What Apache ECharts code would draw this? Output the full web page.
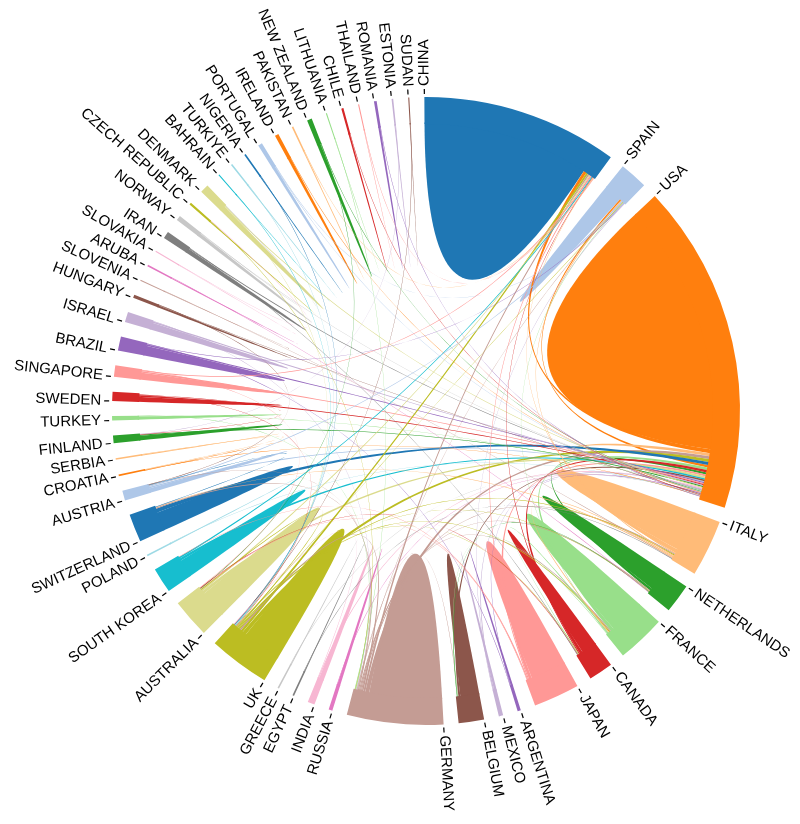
<!DOCTYPE html>
<html>
<head>
<meta charset="utf-8">
<style>
  html, body { margin: 0; padding: 0; background: #fff; }
  #chart { width: 800px; height: 824px; }
</style>
<script src="https://cdn.jsdelivr.net/npm/echarts@6/dist/echarts.min.js"></script>
</head>
<body>
<div id="chart"></div>
<script>
// countries, clockwise from the top
var countries = ['CHINA','SPAIN','USA','ITALY','NETHERLANDS','FRANCE','CANADA','JAPAN','ARGENTINA','MEXICO',
  'BELGIUM','GERMANY','RUSSIA','INDIA','EGYPT','GREECE','UK','AUSTRALIA','SOUTH KOREA','POLAND',
  'SWITZERLAND','AUSTRIA','CROATIA','SERBIA','FINLAND','TURKEY','SWEDEN','SINGAPORE','BRAZIL','ISRAEL',
  'HUNGARY','SLOVENIA','ARUBA','SLOVAKIA','IRAN','NORWAY','CZECH REPUBLIC','DENMARK','BAHRAIN','TURKIYE',
  'NIGERIA','PORTUGAL','IRELAND','PAKISTAN','NEW ZEALAND','LITHUANIA','CHILE','THAILAND','ROMANIA','ESTONIA','SUDAN'];

// size of each country's arc
var totals = [363,52,611,105,54,90,45,85,6,8,
  47,178,7,13,3,3,113,72,47,3,
  52,18,3,3,14,8,17,21,26,19,
  6,2,3,2,13,9,4,16,2,3,
  3,8,7,3,9,2,4,2,5,3,2];

// domestic (self) part of each arc
var selfValues = [336,37,508,81,42,71,31,72,4,5,
  38,146,6,10,2,2,79,55,36,2,
  38,9,1,2,9,6,10,14,20,14,
  4,1,2,1,9,7,2,11,1,2,
  2,6,6,2,7,1,3,1,4,2,1];

// [country a, country b, width at a, width at b]
var links = [
  ['CHINA','USA',6,8], ['SPAIN','USA',3,5], ['ITALY','USA',8,6], ['NETHERLANDS','USA',5,4],
  ['FRANCE','USA',7,5], ['CANADA','USA',6,5], ['JAPAN','USA',6,4], ['GERMANY','USA',8,6],
  ['UK','USA',8,6], ['AUSTRALIA','USA',6,4], ['SOUTH KOREA','USA',5,3], ['SWITZERLAND','USA',8,6],
  ['AUSTRIA','USA',3,2], ['BELGIUM','USA',4,3], ['BRAZIL','USA',3,2], ['SINGAPORE','USA',3,2],
  ['SWEDEN','USA',3,2], ['ISRAEL','USA',3,2], ['FINLAND','USA',2,2], ['DENMARK','USA',2,2],
  ['IRAN','USA',2,1], ['INDIA','USA',2,2], ['MEXICO','USA',2,2], ['TURKEY','USA',1,1],
  ['NORWAY','USA',1,1], ['NEW ZEALAND','USA',1,1], ['PORTUGAL','USA',1,1], ['IRELAND','USA',1,1],
  ['RUSSIA','USA',1,1], ['ARGENTINA','USA',1,1], ['HUNGARY','USA',1,1], ['GREECE','USA',1,1],
  ['CHILE','USA',1,1], ['POLAND','USA',1,1], ['CROATIA','USA',1,1], ['ROMANIA','USA',1,1],
  ['UK','CHINA',5,4], ['GERMANY','CHINA',4,3], ['AUSTRALIA','CHINA',3,2], ['JAPAN','CHINA',2,2],
  ['SINGAPORE','CHINA',2,2], ['SOUTH KOREA','CHINA',3,2], ['CANADA','CHINA',2,1], ['ITALY','CHINA',2,1],
  ['PAKISTAN','CHINA',1,1], ['THAILAND','CHINA',1,1],
  ['GERMANY','UK',3,3], ['GERMANY','ITALY',2,2], ['GERMANY','FRANCE',2,2], ['GERMANY','NETHERLANDS',2,2],
  ['GERMANY','SWITZERLAND',2,2], ['GERMANY','AUSTRIA',1,1], ['GERMANY','SPAIN',1,1], ['GERMANY','BELGIUM',1,1],
  ['ISRAEL','GERMANY',1,1], ['TURKEY','GERMANY',1,1], ['CZECH REPUBLIC','GERMANY',1,1], ['LITHUANIA','GERMANY',1,1],
  ['UK','ITALY',2,2], ['UK','FRANCE',2,2], ['UK','AUSTRALIA',2,2], ['UK','SPAIN',1,1],
  ['UK','NETHERLANDS',1,1], ['UK','CANADA',1,1], ['SWEDEN','UK',1,1], ['DENMARK','UK',1,1],
  ['BAHRAIN','UK',1,1], ['TURKIYE','UK',1,1], ['NIGERIA','UK',1,1], ['SUDAN','UK',1,1], ['INDIA','UK',1,1],
  ['ITALY','SPAIN',2,2], ['ITALY','FRANCE',2,2], ['ITALY','SWITZERLAND',2,1], ['SLOVENIA','ITALY',1,1],
  ['EGYPT','ITALY',1,1], ['FRANCE','SPAIN',1,1], ['FRANCE','BELGIUM',1,1], ['FRANCE','CANADA',2,1],
  ['SPAIN','AUSTRIA',2,2], ['PORTUGAL','SPAIN',1,1], ['BRAZIL','SPAIN',1,1], ['MEXICO','SPAIN',1,1],
  ['NETHERLANDS','BELGIUM',1,1], ['ARUBA','NETHERLANDS',1,1], ['JAPAN','SOUTH KOREA',2,1], ['JAPAN','AUSTRALIA',1,1],
  ['NEW ZEALAND','AUSTRALIA',1,1], ['CANADA','AUSTRALIA',1,1], ['SINGAPORE','AUSTRALIA',1,1], ['IRAN','CANADA',1,1],
  ['SWITZERLAND','AUSTRIA',1,1], ['HUNGARY','AUSTRIA',1,1], ['SERBIA','CROATIA',1,1], ['SWEDEN','FINLAND',1,1],
  ['ESTONIA','FINLAND',1,1], ['NORWAY','DENMARK',1,1], ['SLOVAKIA','CZECH REPUBLIC',1,1], ['BRAZIL','ARGENTINA',1,1]
];

var palette = ['#1f77b4','#aec7e8','#ff7f0e','#ffbb78','#2ca02c','#98df8a','#d62728','#ff9896','#9467bd','#c5b0d5',
  '#8c564b','#c49c94','#e377c2','#f7b6d2','#7f7f7f','#c7c7c7','#bcbd22','#dbdb8d','#17becf','#9edae5'];

var CX = 426, CY = 411, R_IN = 287, R_OUT = 314;
var R_RIB = R_IN + 1.5;   // ribbons tuck slightly under the ring, no seam
var PAD = 2.75 * Math.PI / 180;
var START = -0.3 * Math.PI / 180;

var n = countries.length;
var idx = {};
countries.forEach(function(c, i){ idx[c] = i; });
function colorOf(i){ return palette[i % palette.length]; }

// group layout
var sumTotal = totals.reduce(function(s, v){ return s + v; }, 0);
var k = (2 * Math.PI - n * PAD) / sumTotal;
var groupStart = [], groupEnd = [];
var ang = START;
for (var i = 0; i < n; i++) {
  groupStart[i] = ang;
  ang += totals[i] * k;
  groupEnd[i] = ang;
  ang += PAD;
}

// subgroups: self first, then links by descending width
var ends = countries.map(function(){ return []; });
links.forEach(function(l, li){
  ends[idx[l[0]]].push({li: li, side: 0, w: l[2]});
  ends[idx[l[1]]].push({li: li, side: 1, w: l[3]});
});
var selfArc = [];
var linkArc = links.map(function(){ return [null, null]; });
for (i = 0; i < n; i++) {
  var a0 = groupStart[i];
  selfArc[i] = [a0, a0 + selfValues[i] * k];
  a0 = selfArc[i][1];
  ends[i].sort(function(p, q){ return q.w - p.w; });
  ends[i].forEach(function(e){
    linkArc[e.li][e.side] = [a0, a0 + e.w * k];
    a0 += e.w * k;
  });
}

function pt(phi, r){ return [CX + r * Math.sin(phi), CY - r * Math.cos(phi)]; }
function arcPts(p0, p1, out){
  var m = Math.max(2, Math.ceil(Math.abs(p1 - p0) / 0.01));
  for (var s = 0; s <= m; s++) out.push(pt(p0 + (p1 - p0) * s / m, R_RIB));
}
function curvePts(P0, P2, out){
  for (var s = 1; s < 48; s++) {
    var t = s / 48, u = 1 - t;
    out.push([u*u*P0[0] + 2*u*t*CX + t*t*P2[0], u*u*P0[1] + 2*u*t*CY + t*t*P2[1]]);
  }
}
function ribbon(sa, ta){
  var pts = [];
  arcPts(sa[0], sa[1], pts);
  if (ta) {
    curvePts(pt(sa[1], R_RIB), pt(ta[0], R_RIB), pts);
    arcPts(ta[0], ta[1], pts);
    curvePts(pt(ta[1], R_RIB), pt(sa[0], R_RIB), pts);
  } else {
    curvePts(pt(sa[1], R_RIB), pt(sa[0], R_RIB), pts);
  }
  return pts;
}

var ribbons = [];
for (i = 0; i < n; i++) ribbons.push({points: ribbon(selfArc[i]), color: colorOf(i)});
links.forEach(function(l, li){
  var c = l[2] >= l[3] ? colorOf(idx[l[0]]) : colorOf(idx[l[1]]);
  ribbons.push({points: ribbon(linkArc[li][0], linkArc[li][1]), color: c});
});

var chart = echarts.init(document.getElementById('chart'));
chart.setOption({
  animation: false,
  series: [
    {
      type: 'custom', coordinateSystem: 'none', silent: true,
      data: ribbons.map(function(r, j){ return [j]; }),
      renderItem: function(params){
        var r = ribbons[params.dataIndex];
        return {type: 'polygon', shape: {points: r.points}, style: {fill: r.color}};
      }
    },
    {
      type: 'custom', coordinateSystem: 'none', silent: true,
      data: countries.map(function(c, j){ return [j]; }),
      renderItem: function(params){
        var j = params.dataIndex;
        var phi = groupStart[j];
        var right = phi < Math.PI;
        var p1 = pt(phi, R_OUT + 3), p2 = pt(phi, R_OUT + 8), pl = pt(phi, R_OUT + 11);
        var rot = right ? Math.PI / 2 - phi : -Math.PI / 2 - phi;
        var align = right ? 'left' : 'right';
        return {
          type: 'group',
          children: [
            {
              type: 'sector',
              shape: {cx: CX, cy: CY, r0: R_IN, r: R_OUT,
                startAngle: groupStart[j] - Math.PI / 2, endAngle: groupEnd[j] - Math.PI / 2, clockwise: true},
              style: {fill: colorOf(j)}
            },
            {
              type: 'line',
              shape: {x1: p1[0], y1: p1[1], x2: p2[0], y2: p2[1]},
              style: {stroke: '#000', lineWidth: 1.2}
            },
            {
              type: 'text', x: pl[0], y: pl[1], rotation: rot,
              style: {text: countries[j], fill: '#000', font: '15px "Liberation Sans", Arial, sans-serif',
                align: align, verticalAlign: 'middle', textAlign: align, textVerticalAlign: 'middle'}
            }
          ]
        };
      }
    }
  ]
});
</script>
</body>
</html>
